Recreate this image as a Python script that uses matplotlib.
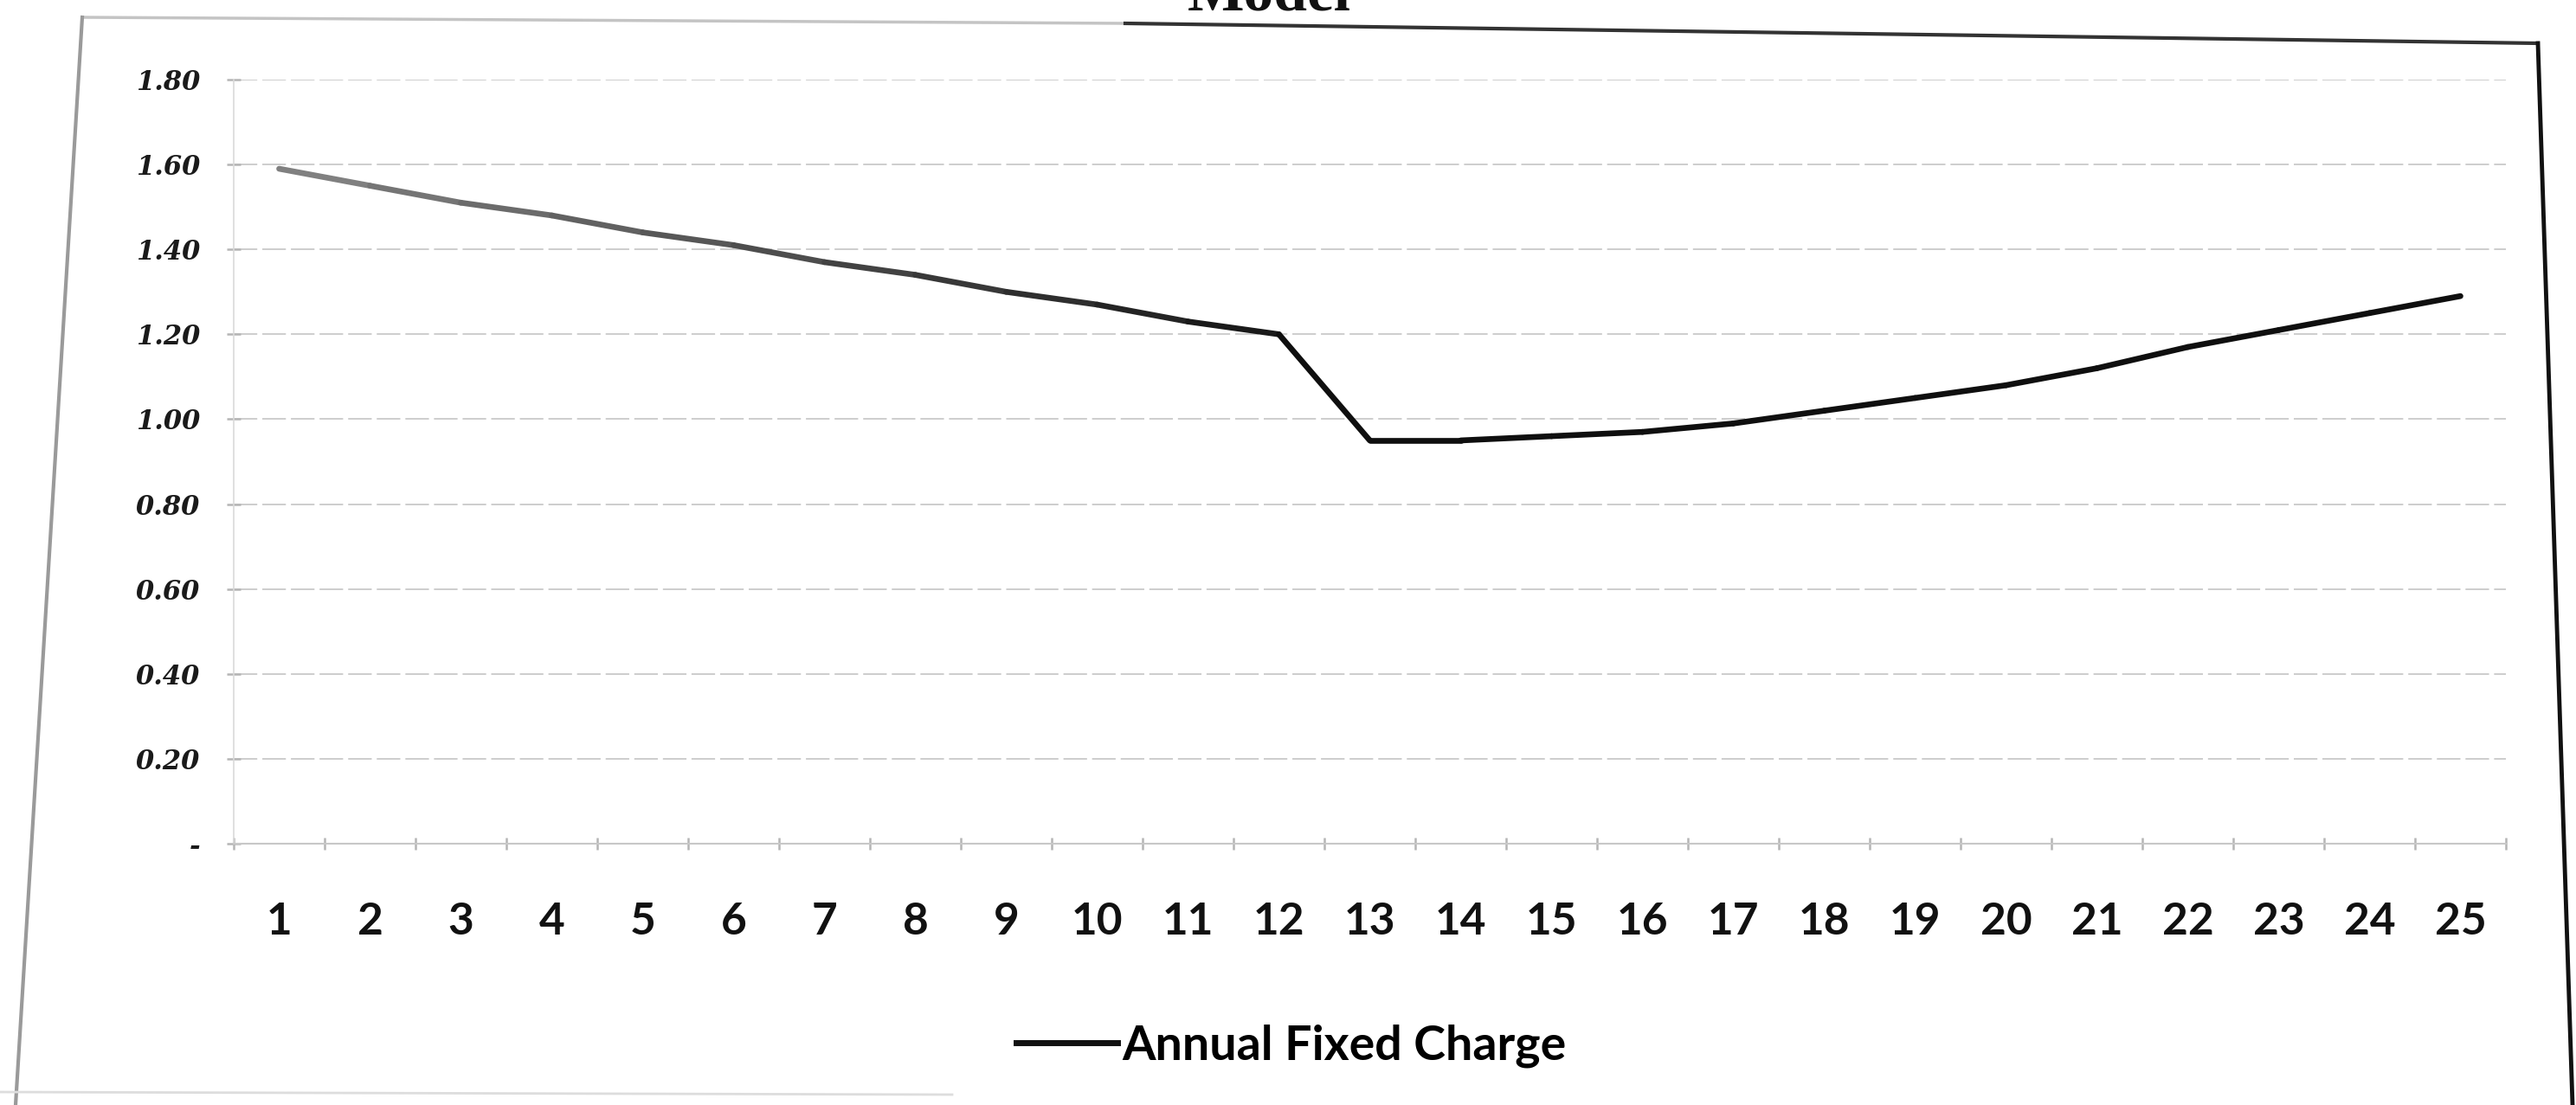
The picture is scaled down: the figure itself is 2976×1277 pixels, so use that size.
import matplotlib
matplotlib.use('Agg')
import matplotlib.pyplot as plt
import numpy as np
from matplotlib.collections import LineCollection
from matplotlib.lines import Line2D

# data
years = list(range(1, 26))
annualFixedCharge = [1.59, 1.55, 1.51, 1.48, 1.44, 1.41, 1.37, 1.34, 1.30, 1.27, 1.23, 1.20,
                     0.95, 0.95, 0.96, 0.97, 0.99, 1.02, 1.05, 1.08, 1.12, 1.17, 1.21, 1.25, 1.29]
yTicks = [0, 0.2, 0.4, 0.6, 0.8, 1.0, 1.2, 1.4, 1.6, 1.8]
yTickLabels = ['-', '0.20', '0.40', '0.60', '0.80', '1.00', '1.20', '1.40', '1.60', '1.80']
seriesName = 'Annual Fixed Charge'
chartTitle = 'Model'

W, H = 2976, 1277
fig = plt.figure(figsize=(W / 100, H / 100), dpi=100)
fig.patch.set_facecolor('white')

def px(x, y):
    # pixel position -> figure fraction
    return x / W, 1 - y / H

# axes box in pixels: left, top, right, bottom
left, top, right, bottom = 270, 92, 2895, 975
ax = fig.add_axes([left / W, 1 - bottom / H, (right - left) / W, (bottom - top) / H])

# line is faded grey on the left and black on the right, like the scan
points = np.column_stack([years, annualFixedCharge])
segments = np.stack([points[:-1], points[1:]], axis=1)
shade = np.clip(np.arange(len(segments)) / 11.0, 0, 1)
segColors = [(0.5 * (1 - s) + 0.06 * s,) * 3 for s in shade]
lc = LineCollection(segments, colors=segColors, linewidths=4.8, capstyle='round', zorder=3)
ax.add_collection(lc)

ax.set_xlim(0.5, 25.5)
ax.set_ylim(0, 1.8)

# gridlines
ax.set_yticks(yTicks)
ax.set_yticklabels(yTickLabels)
ax.yaxis.grid(True, color='#cdcdcd', linewidth=1.4, dashes=(14, 3))
ax.set_axisbelow(True)

ax.set_xticks(years)
ax.set_xticklabels([str(y) for y in years])
ax.set_xticks(np.arange(0.5, 26, 1.0), minor=True)

for s in ['top', 'right']:
    ax.spines[s].set_visible(False)
ax.spines['left'].set_color('#dadada')
ax.spines['bottom'].set_color('#c8c8c8')
ax.spines['left'].set_linewidth(1.2)
ax.spines['bottom'].set_linewidth(1.5)

ax.tick_params(axis='x', which='major', length=0, pad=48, labelsize=37, colors='#111111')
ax.tick_params(axis='x', which='minor', length=10, width=1.8, color='#b5b5b5', direction='inout')
ax.tick_params(axis='y', which='major', length=12, width=1.8, color='#b5b5b5', direction='inout',
               pad=22, labelsize=22, labelcolor='#1a1a1a')

for lbl in ax.get_xticklabels():
    lbl.set_family('Lato')
    lbl.set_weight('bold')
for lbl in ax.get_yticklabels():
    lbl.set_family('DejaVu Serif')
    lbl.set_style('italic')
    lbl.set_weight('bold')

# legend below the plot
handle = Line2D([], [], color='#111111', linewidth=5)
fig.legend(handles=[handle], labels=[seriesName], loc='center', bbox_to_anchor=px(1492, 1209),
           frameon=False, handlelength=2.1, handletextpad=0.1,
           prop={'family': 'Lato', 'weight': 'bold', 'size': 40})

# title, cut off at the top of the scan
fig.text(*px(1466, 11), chartTitle, ha='center', va='baseline', fontsize=50,
         family='Liberation Serif', weight='bold', color='#111111')

# chart frame (slightly skewed as in the scan)
fig.add_artist(Line2D(*zip(px(95, 20), px(1300, 27)), color='#c4c4c4', linewidth=2.5))
fig.add_artist(Line2D(*zip(px(1300, 27), px(2932, 50)), color='#333333', linewidth=3))
fig.add_artist(Line2D(*zip(px(95, 20), px(18, 1277)), color='#9a9a9a', linewidth=3))
fig.add_artist(Line2D(*zip(px(2932, 50), px(2972, 1277)), color='#111111', linewidth=3.5))
fig.add_artist(Line2D(*zip(px(0, 1262), px(1100, 1265)), color='#dddddd', linewidth=2))

fig.savefig('out.png', dpi=100, facecolor='white')
